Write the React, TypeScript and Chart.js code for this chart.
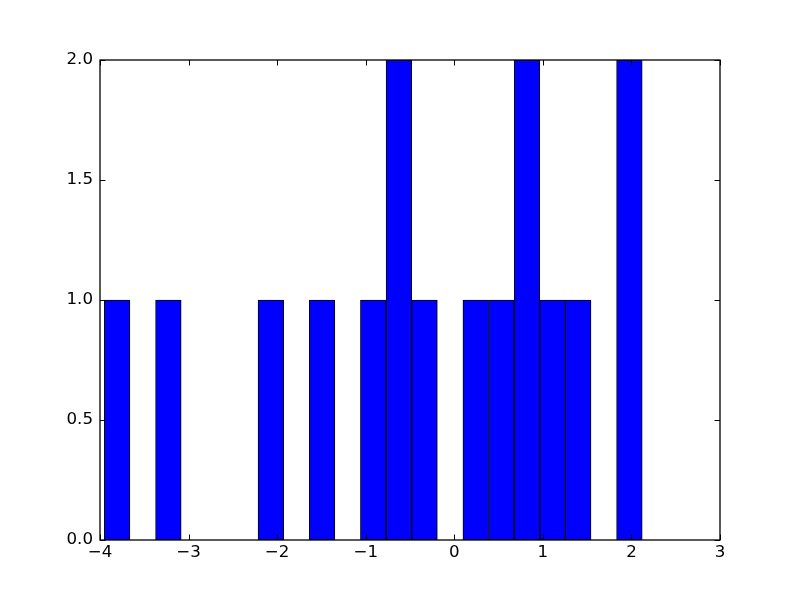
import React, { useEffect, useRef } from "react";
import { Chart, registerables } from "chart.js";

Chart.register(...registerables);

// Histogram bin centers (21 equal bins)
const binCenters = [
  -3.807, -3.517, -3.228, -2.939, -2.65, -2.361, -2.071, -1.782, -1.493, -1.204,
  -0.915, -0.625, -0.336, -0.047, 0.242, 0.531, 0.821, 1.11, 1.399, 1.688, 1.977,
];
// Counts per bin (null = empty bin)
const counts: (number | null)[] = [
  1, null, 1, null, null, null, 1, null, 1, null,
  1, 2, 1, null, 1, 1, 2, 1, 1, null, 2,
];
const xTicks = [-4, -3, -2, -1, 0, 1, 2, 3];
const yTicks = [0, 0.5, 1, 1.5, 2];

const FONT = "'DejaVu Sans', sans-serif";

const fmtX = (v: number) => (v < 0 ? "\u2212" + Math.abs(v) : String(v));

const framePlugin = {
  id: "mplFrame",
  afterDraw(chart: any) {
    const { ctx, chartArea } = chart;
    const { left, right, top, bottom } = chartArea;
    const xs = chart.scales.x;
    const ys = chart.scales.y;
    const tl = 5.5;
    ctx.save();
    ctx.strokeStyle = "#000";
    ctx.lineWidth = 1;
    ctx.beginPath();
    for (const v of xTicks) {
      const px = Math.round(xs.getPixelForValue(v)) + 0.5;
      ctx.moveTo(px, bottom);
      ctx.lineTo(px, bottom - tl);
      ctx.moveTo(px, top);
      ctx.lineTo(px, top + tl);
    }
    for (const v of yTicks) {
      const py = Math.round(ys.getPixelForValue(v)) + 0.5;
      ctx.moveTo(left, py);
      ctx.lineTo(left + tl, py);
      ctx.moveTo(right, py);
      ctx.lineTo(right - tl, py);
    }
    ctx.stroke();
    ctx.lineWidth = 1.3;
    ctx.strokeRect(left, top, right - left, bottom - top);
    ctx.restore();
  },
};

export default function App() {
  const ref = useRef<HTMLCanvasElement | null>(null);
  useEffect(() => {
    document.body.style.margin = "0";
    const canvas = ref.current;
    if (!canvas) return;
    const chart = new Chart(canvas, {
      type: "bar",
      data: {
        datasets: [
          {
            data: binCenters.map((x, i) => ({ x, y: counts[i] })) as any,
            backgroundColor: "#0000ff",
            borderColor: "#000000",
            borderWidth: 1,
            borderSkipped: false,
            barPercentage: 1,
            categoryPercentage: 1,
          },
        ],
      },
      options: {
        animation: false,
        responsive: false,
        maintainAspectRatio: false,
        layout: { padding: { left: 0, right: 80, top: 60, bottom: 0 } },
        plugins: {
          legend: { display: false },
          tooltip: { enabled: false },
          title: { display: false },
        },
        scales: {
          x: {
            type: "linear",
            min: -4,
            max: 3,
            offset: false,
            grid: { display: false, drawTicks: false },
            border: { display: false },
            afterFit: (s: any) => {
              s.height = 60;
            },
            afterBuildTicks: (s: any) => {
              s.ticks = xTicks.map((v) => ({ value: v }));
            },
            ticks: {
              color: "#000",
              font: { family: FONT, size: 16.67 },
              padding: 3,
              maxRotation: 0,
              autoSkip: false,
              callback: (v: any) => fmtX(Number(v)),
            },
          },
          y: {
            type: "linear",
            min: 0,
            max: 2,
            grid: { display: false, drawTicks: false },
            border: { display: false },
            afterFit: (s: any) => {
              s.width = 100;
            },
            afterBuildTicks: (s: any) => {
              s.ticks = yTicks.map((v) => ({ value: v }));
            },
            ticks: {
              color: "#000",
              font: { family: FONT, size: 16.67 },
              padding: 7,
              autoSkip: false,
              callback: (v: any) => Number(v).toFixed(1),
            },
          },
        },
      },
      plugins: [framePlugin],
    });
    return () => chart.destroy();
  }, []);
  return (
    <div style={{ width: 800, height: 600, background: "#fff" }}>
      <canvas ref={ref} width={800} height={600} style={{ display: "block" }} />
    </div>
  );
}
